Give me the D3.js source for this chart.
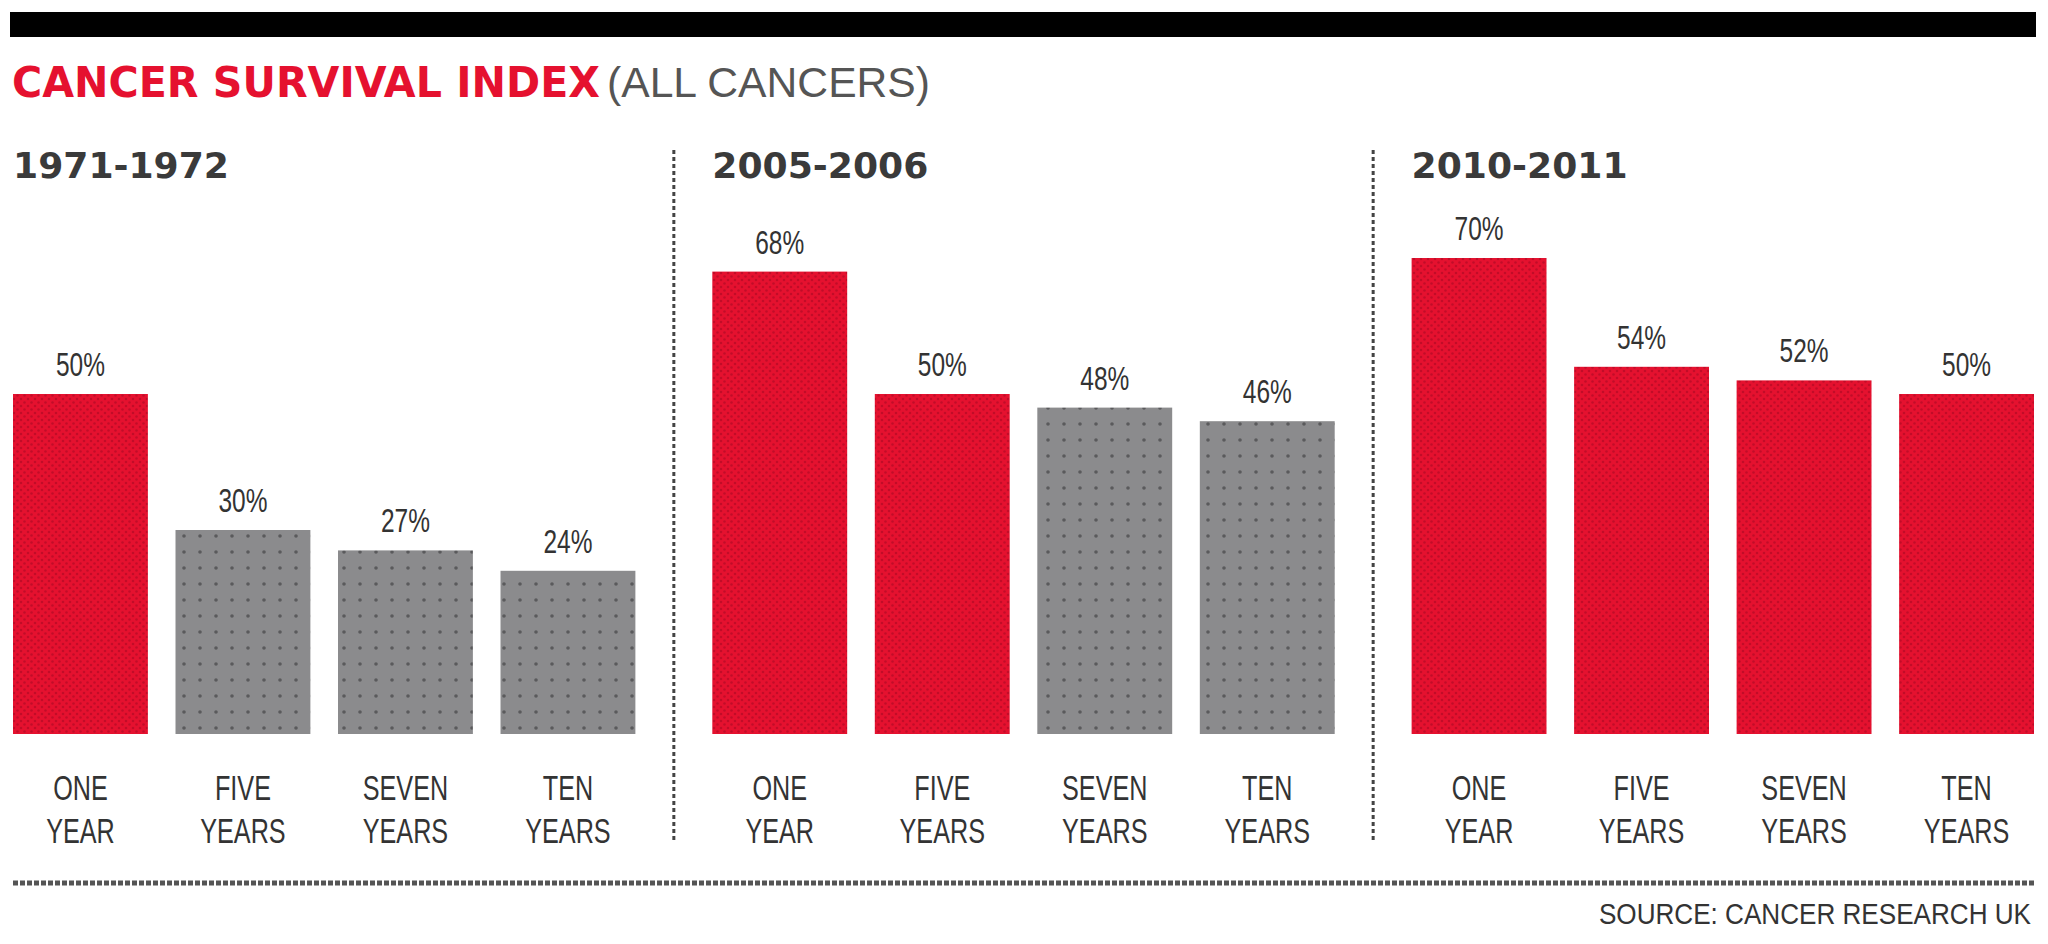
<!DOCTYPE html>
<html>
<head>
<meta charset="utf-8">
<script src="https://cdn.jsdelivr.net/npm/d3@7/dist/d3.min.js"></script>
<style>
  html, body { margin: 0; padding: 0; background: #fff; }
  svg { display: block; }
</style>
</head>
<body>
<svg id="chart" width="2048" height="944"></svg>
<script>
// ---- data ----
const periods = ["1971-1972", "2005-2006", "2010-2011"];
const categoryLine1 = ["ONE", "FIVE", "SEVEN", "TEN"];
const categoryLine2 = ["YEAR", "YEARS", "YEARS", "YEARS"];
const values1971 = [50, 30, 27, 24];
const values2005 = [68, 50, 48, 46];
const values2010 = [70, 54, 52, 50];
const valueLabels1971 = ["50%", "30%", "27%", "24%"];
const valueLabels2005 = ["68%", "50%", "48%", "46%"];
const valueLabels2010 = ["70%", "54%", "52%", "50%"];
const titleMain = "CANCER SURVIVAL INDEX";
const titleSub = "(ALL CANCERS)";
const sourceText = "SOURCE: CANCER RESEARCH UK";

const seriesValues = [values1971, values2005, values2010];
const seriesLabels = [valueLabels1971, valueLabels2005, valueLabels2010];

// ---- drawing ----
const svg = d3.select("#chart");
const RED = "#e5112f", GRAY = "#8b8b8d";
const SQ = 0.72; // horizontal condensation for narrow labels

const defs = svg.append("defs");
const pr = defs.append("pattern").attr("id", "redPat").attr("patternUnits", "userSpaceOnUse")
  .attr("width", 7).attr("height", 7);
pr.append("rect").attr("width", 7).attr("height", 7).attr("fill", RED);
[[0,0],[7,0],[0,7],[7,7],[3.5,3.5]].forEach(c =>
  pr.append("circle").attr("cx", c[0]).attr("cy", c[1]).attr("r", 1.3).attr("fill", "#c20c28"));

const pg = defs.append("pattern").attr("id", "grayPat").attr("patternUnits", "userSpaceOnUse")
  .attr("width", 16).attr("height", 16);
pg.append("rect").attr("width", 16).attr("height", 16).attr("fill", GRAY);
pg.append("circle").attr("cx", 8).attr("cy", 8).attr("r", 1.8).attr("fill", "#5a5a5c");

// top black bar
svg.append("rect").attr("x", 10).attr("y", 12).attr("width", 2026).attr("height", 25).attr("fill", "#000");

// title
svg.append("text").attr("x", 12).attr("y", 97)
  .attr("font-family", "DejaVu Sans, sans-serif").attr("font-weight", "bold")
  .attr("font-size", 42).attr("fill", RED)
  .attr("textLength", 588).attr("lengthAdjust", "spacingAndGlyphs")
  .text(titleMain);
svg.append("text").attr("x", 607).attr("y", 97)
  .attr("font-family", "Liberation Sans, sans-serif")
  .attr("font-size", 42).attr("fill", "#555")
  .attr("textLength", 323).attr("lengthAdjust", "spacingAndGlyphs")
  .text(titleSub);

// condensed centered text helper
function narrowText(sel, cx, yy, txt, size) {
  sel.append("text")
    .attr("transform", `translate(${cx},${yy}) scale(${SQ},1)`)
    .attr("text-anchor", "middle")
    .attr("font-family", "Liberation Sans, sans-serif")
    .attr("font-size", size).attr("fill", "#333")
    .text(txt);
}

// scales
const panelScale = d3.scaleBand().domain(periods).range([13, 2034]).paddingInner(0.11).paddingOuter(0);
const y = d3.scaleLinear().domain([0, 70]).range([734, 258]);

periods.forEach((p, i) => {
  const x0 = panelScale(p);
  const x = d3.scaleBand().domain(categoryLine1)
    .range([x0, x0 + panelScale.bandwidth()]).paddingInner(0.17).paddingOuter(0);
  const g = svg.append("g");

  g.append("text").attr("x", x0).attr("y", 178)
    .attr("font-family", "DejaVu Sans, sans-serif").attr("font-weight", "bold")
    .attr("font-size", 36).attr("fill", "#3a3a3a")
    .attr("textLength", 216).attr("lengthAdjust", "spacingAndGlyphs")
    .text(p);

  const vals = seriesValues[i];
  const labs = seriesLabels[i];

  g.selectAll("rect.bar").data(vals).enter().append("rect")
    .attr("class", "bar")
    .attr("x", (d, j) => x(categoryLine1[j]))
    .attr("y", d => y(d))
    .attr("width", x.bandwidth())
    .attr("height", d => y(0) - y(d))
    .attr("fill", d => d >= 50 ? "url(#redPat)" : "url(#grayPat)");

  vals.forEach((d, j) => {
    const cx = x(categoryLine1[j]) + x.bandwidth() / 2;
    narrowText(g, cx, y(d) - 18, labs[j], 34);
    narrowText(g, cx, 800, categoryLine1[j], 35);
    narrowText(g, cx, 843, categoryLine2[j], 35);
  });

  if (i > 0) {
    const dx = x0 - (panelScale.step() - panelScale.bandwidth()) / 2;
    svg.append("line").attr("x1", dx).attr("x2", dx).attr("y1", 150).attr("y2", 842)
      .attr("stroke", "#444").attr("stroke-width", 3).attr("stroke-dasharray", "4,3");
  }
});

// bottom dotted rule
svg.append("line").attr("x1", 13).attr("x2", 2034).attr("y1", 883).attr("y2", 883)
  .attr("stroke", "#555").attr("stroke-width", 5).attr("stroke-dasharray", "5,2");

// source
svg.append("text")
  .attr("transform", "translate(2031,924) scale(0.87,1)")
  .attr("text-anchor", "end")
  .attr("font-family", "Liberation Sans, sans-serif")
  .attr("font-size", 30).attr("fill", "#333")
  .text(sourceText);
</script>
</body>
</html>
